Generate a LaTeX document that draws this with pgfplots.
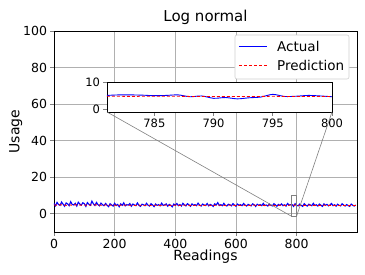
\documentclass[border=0pt]{standalone}
\usepackage{fontspec}
\setmainfont{DejaVu Sans}
\usepackage{pgfplots}
\pgfplotsset{compat=1.18}
\definecolor{gridc}{HTML}{B0B0B0}
\definecolor{legc}{HTML}{D0D0D0}
\begin{document}
\begin{tikzpicture}
\useasboundingbox (-54pt,-42pt) rectangle (311pt,232pt);
\begin{axis}[
  name=main,
  scale only axis, width=303pt, height=201pt,
  xmin=0, xmax=999, ymin=-10, ymax=100,
  xtick={0,200,400,600,800}, ytick={0,20,40,60,80,100},
  grid=major, grid style={gridc, line width=0.6pt},
  tick pos=left, tick align=outside, major tick length=3.5pt,
  tick style={line width=0.6pt},
  axis line style={line width=0.6pt},
  /pgf/number format/assume math mode=true,
  ticklabel style={font=\fontsize{12.5}{14}\selectfont},
  title={Log normal}, title style={font=\fontsize{15}{17}\selectfont, yshift=-3pt},
  xlabel={Readings}, ylabel={Usage},
  label style={font=\fontsize{14}{16}\selectfont},
  xlabel style={yshift=5pt}, ylabel style={yshift=-6pt},
]
\addplot[blue, line width=1.1pt] coordinates {
(0,5.6)(5,4.3)(10,6.2)(15,5.0)(20,4.6)(25,6.4)(30,5.2)(35,4.1)(40,5.9)(45,5.4)
(50,4.4)(55,6.6)(60,5.1)(65,4.8)(70,5.7)(75,4.2)(80,6.3)(85,5.3)(90,4.7)(95,6.0)
(100,5.5)(105,4.0)(110,6.1)(115,5.2)(120,4.6)(125,6.9)(130,5.4)(135,4.5)(140,6.2)(145,5.0)
(150,4.3)(155,5.8)(160,4.9)(165,4.4)(170,5.6)(175,4.7)(180,3.9)(185,5.5)(190,4.8)(195,4.2)
(200,5.7)(205,4.5)(210,5.1)(215,3.8)(220,5.4)(225,4.6)(230,6.0)(235,4.3)(240,5.0)(245,4.7)
(250,5.6)(255,4.1)(260,5.3)(265,4.8)(270,4.4)(275,5.9)(280,4.6)(285,4.0)(290,5.2)(295,4.9)
(300,4.4)(305,5.7)(310,4.7)(315,4.2)(320,5.5)(325,4.8)(330,3.9)(335,5.3)(340,4.6)(345,5.0)
(350,4.3)(355,5.8)(360,4.5)(365,4.9)(370,5.4)(375,4.1)(380,5.1)(385,4.6)(390,3.8)(395,5.3)
(400,4.7)(405,5.6)(410,4.4)(415,5.0)(420,4.2)(425,5.7)(430,4.8)(435,4.3)(440,5.5)(445,4.9)
(450,4.1)(455,5.4)(460,4.6)(465,5.0)(470,4.4)(475,5.8)(480,4.7)(485,4.2)(490,5.3)(495,4.8)
(500,4.5)(505,5.6)(510,4.3)(515,5.1)(520,4.7)(525,4.0)(530,5.4)(535,4.8)(540,6.1)(545,4.5)
(550,5.0)(555,4.4)(560,5.7)(565,4.6)(570,4.2)(575,5.2)(580,4.9)(585,4.3)(590,5.5)(595,4.7)
(600,4.1)(605,5.3)(610,4.6)(615,5.0)(620,4.4)(625,5.6)(630,4.8)(635,4.2)(640,5.1)(645,4.7)
(650,4.3)(655,5.4)(660,4.9)(665,4.0)(670,5.2)(675,4.6)(680,5.0)(685,4.4)(690,5.7)(695,4.5)
(700,4.8)(705,4.2)(710,5.3)(715,4.7)(720,4.3)(725,5.5)(730,4.9)(735,4.1)(740,5.1)(745,4.6)
(750,5.4)(755,4.4)(760,4.9)(765,4.2)(770,5.6)(775,4.7)(780,5.0)(785,5.0)(790,4.0)(795,5.5)
(800,4.6)(805,4.3)(810,5.3)(815,4.6)(820,4.0)(825,5.5)(830,4.7)(835,4.2)(840,5.2)(845,4.8)
(850,4.4)(855,5.7)(860,4.5)(865,4.9)(870,4.2)(875,5.3)(880,4.7)(885,4.0)(890,5.4)(895,4.6)
(900,5.1)(905,4.3)(910,4.8)(915,5.6)(920,4.4)(925,4.9)(930,4.1)(935,5.2)(940,4.6)(945,4.3)
(950,5.5)(955,4.7)(960,4.2)(965,5.0)(970,4.5)(975,4.0)(980,5.3)(985,4.6)(990,4.2)(995,4.8)
};
\addplot[red, line width=0.9pt, densely dashed] coordinates {
(0,4.8)(10,4.7)(20,4.9)(30,4.8)(40,4.6)(50,4.8)(60,4.7)(70,4.9)(80,4.8)(90,4.7)
(100,4.8)(110,4.6)(120,4.8)(130,4.7)(140,4.9)(150,4.7)(160,4.6)(170,4.8)(180,4.6)(190,4.7)
(200,4.7)(210,4.5)(220,4.7)(230,4.6)(240,4.8)(250,4.6)(260,4.7)(270,4.5)(280,4.7)(290,4.6)
(300,4.6)(310,4.7)(320,4.5)(330,4.6)(340,4.7)(350,4.5)(360,4.6)(370,4.7)(380,4.6)(390,4.5)
(400,4.7)(410,4.6)(420,4.5)(430,4.7)(440,4.6)(450,4.6)(460,4.5)(470,4.7)(480,4.6)(490,4.5)
(500,4.6)(510,4.7)(520,4.5)(530,4.6)(540,4.7)(550,4.6)(560,4.5)(570,4.6)(580,4.7)(590,4.5)
(600,4.6)(610,4.5)(620,4.7)(630,4.6)(640,4.5)(650,4.6)(660,4.7)(670,4.5)(680,4.6)(690,4.6)
(700,4.5)(710,4.7)(720,4.6)(730,4.5)(740,4.6)(750,4.7)(760,4.6)(770,4.5)(780,4.8)(790,4.7)
(800,4.7)(810,4.6)(820,4.5)(830,4.6)(840,4.7)(850,4.5)(860,4.6)(870,4.5)(880,4.6)(890,4.7)
(900,4.5)(910,4.6)(920,4.5)(930,4.6)(940,4.5)(950,4.6)(960,4.5)(970,4.4)(980,4.6)(990,4.5)(999,4.5)
};
\draw[gray, line width=0.6pt] (axis cs:781,-1.2) rectangle (axis cs:800,10.2);
\coordinate (rbl) at (axis cs:781,-1.2);
\coordinate (rbr) at (axis cs:800,-1.2);
\end{axis}
% legend
\draw[legc, fill=white, rounded corners=2pt, line width=0.6pt] (181pt,153pt) rectangle (295pt,197pt);
\draw[blue, line width=1pt] (185pt,186pt) -- (213pt,186pt);
\draw[red, line width=0.9pt, densely dashed] (185pt,167pt) -- (213pt,167pt);
\node[anchor=west, inner sep=2pt, font=\fontsize{13.5}{15}\selectfont] at (221pt,186pt) {Actual};
\node[anchor=west, inner sep=2pt, font=\fontsize{13.5}{15}\selectfont] at (221pt,167pt) {Prediction};
\begin{axis}[
  name=inset,
  at={(53pt,120pt)}, anchor=south west,
  scale only axis, width=225pt, height=30pt,
  xmin=781, xmax=800, ymin=-1.2, ymax=10.2,
  xtick={785,790,795,800}, ytick={0,10},
  axis background/.style={fill=white},
  tick pos=left, tick align=outside, major tick length=3.5pt,
  tick style={line width=0.6pt},
  axis line style={line width=0.6pt},
  /pgf/number format/assume math mode=true,
  ticklabel style={font=\fontsize{11.5}{13}\selectfont},
]
\addplot[blue, line width=0.9pt, smooth] coordinates {
(781,5.1)(782,5.3)(783,5.3)(784,5.2)(785,5.0)(786,5.1)(787,5.3)(788,4.6)(789,4.9)(790,4.0)
(791,4.3)(792,3.8)(793,4.2)(794,4.5)(795,5.5)(796,4.7)(797,4.8)(798,5.1)(799,4.9)(800,4.6)
};
\addplot[red, line width=0.9pt, densely dashed] coordinates {
(781,4.8)(782,4.8)(783,4.7)(784,4.8)(785,4.8)(786,4.8)(787,4.8)(788,4.7)(789,4.7)(790,4.7)
(791,4.7)(792,4.7)(793,4.7)(794,4.7)(795,4.8)(796,4.7)(797,4.7)(798,4.7)(799,4.7)(800,4.7)
};
\end{axis}
\draw[gray, line width=0.6pt] (inset.south west) -- (rbl);
\draw[gray, line width=0.6pt] (inset.south east) -- (rbr);
\end{tikzpicture}
\end{document}
